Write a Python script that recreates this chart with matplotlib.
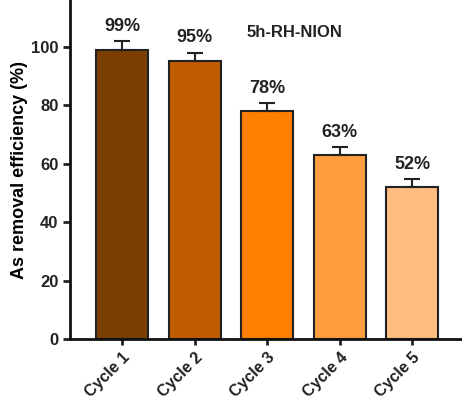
import numpy as np
import matplotlib
matplotlib.use("Agg")
import matplotlib.pyplot as plt

plt.rcParams['font.family'] = ['Liberation Sans', 'DejaVu Sans']
plt.rcParams['font.weight'] = 'bold'

# Arsenic removal over repeated adsorption cycles
cycles = ["Cycle 1", "Cycle 2", "Cycle 3", "Cycle 4", "Cycle 5"]
efficiency = [99, 95, 78, 63, 52]
errors = [3.0, 3.0, 2.7, 2.8, 2.6]
bar_colors = ["#7a3f00", "#c05c00", "#ff7f00", "#ff9d3f", "#ffbe80"]

fig = plt.figure(figsize=(4.62, 4.08), dpi=100)
ax = fig.add_axes([0.152, 0.169, 0.848, 0.831])

x = np.arange(len(cycles))
ax.bar(x, efficiency, width=0.72, color=bar_colors, edgecolor="#222222",
       linewidth=1.5, zorder=2)
ax.errorbar(x, efficiency, yerr=[np.zeros(len(errors)), errors], fmt="none",
            ecolor="#222222", elinewidth=1.5, capsize=6, capthick=1.5, zorder=3)

for xi, val, err in zip(x, efficiency, errors):
    ax.text(xi, val + err + 5.0, f"{val}%", ha="center", va="center",
            fontsize=13, fontweight="bold", color="#222222")

ax.text(2.38, 104.8, "5h-RH-NION", ha="center", va="center", fontsize=12,
        fontweight="bold", color="#222222")

ax.set_ylim(0, 116)
ax.set_xlim(-0.72, 4.69)
ax.set_yticks([0, 20, 40, 60, 80, 100])
ax.set_xticks(x)
ax.set_xticklabels(cycles, rotation=45, ha="right", rotation_mode="anchor",
                   fontsize=11.5, fontweight="bold")
ax.set_ylabel("As removal efficiency (%)", fontsize=13, fontweight="bold",
              labelpad=2)

for side in ["top", "right"]:
    ax.spines[side].set_visible(False)
for side in ["left", "bottom"]:
    ax.spines[side].set_linewidth(2)
    ax.spines[side].set_color("#111111")
ax.tick_params(axis="y", width=2, length=5, labelsize=12, colors="#222222")
ax.tick_params(axis="x", width=2, length=4, colors="#222222", pad=4)

fig.savefig("out.png", dpi=100)
